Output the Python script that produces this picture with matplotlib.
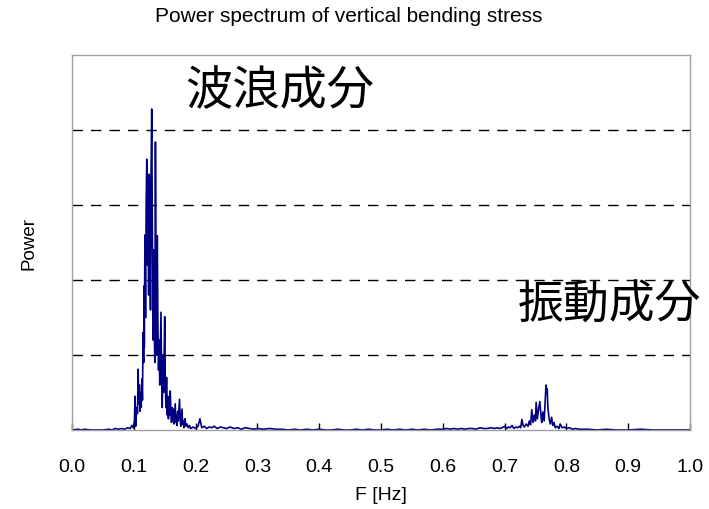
import numpy as np
import matplotlib.pyplot as plt

# power spectrum, read band by band (frequency in Hz, power in grid units)
low_freq = [0.000, 0.010, 0.015, 0.020, 0.030, 0.040, 0.050, 0.060, 0.065, 0.070, 0.075, 0.080, 0.085, 0.090, 0.094]
low_power = [0.00, 0.01, 0.00, 0.01, 0.00, 0.00, 0.00, 0.01, 0.00, 0.02, 0.01, 0.02, 0.01, 0.03, 0.02]

wave_freq = [0.097, 0.099, 0.101, 0.102, 0.103, 0.105, 0.106, 0.107, 0.108, 0.109, 0.110, 0.111, 0.112,
             0.113, 0.114, 0.115, 0.116, 0.1165, 0.117, 0.118, 0.119, 0.120, 0.121, 0.122, 0.123, 0.124,
             0.125, 0.126, 0.127, 0.128, 0.129, 0.130, 0.131, 0.132, 0.133, 0.134, 0.135, 0.136, 0.137,
             0.138, 0.139, 0.140, 0.141, 0.142, 0.143, 0.144, 0.145, 0.146, 0.147, 0.148, 0.149, 0.150,
             0.151, 0.152, 0.153, 0.154, 0.155, 0.156, 0.157, 0.158, 0.159, 0.160, 0.161, 0.162, 0.163,
             0.164, 0.165, 0.166, 0.167, 0.168, 0.169, 0.170, 0.171, 0.172, 0.174, 0.175, 0.176, 0.178,
             0.179, 0.180, 0.181, 0.183, 0.184, 0.186, 0.188, 0.190, 0.192]
wave_power = [0.06, 0.03, 0.12, 0.45, 0.05, 0.30, 0.22, 0.81, 0.35, 0.60, 0.25, 0.50, 0.30,
              0.68, 0.40, 1.30, 0.90, 1.92, 1.10, 2.60, 1.50, 3.00, 3.61, 2.20, 3.20, 1.80,
              3.41, 2.40, 1.60, 3.50, 4.28, 2.80, 1.20, 2.40, 1.40, 0.90, 3.84, 2.10, 1.00,
              2.59, 1.40, 0.80, 1.20, 0.60, 1.10, 1.57, 0.70, 0.30, 1.00, 0.50, 0.90, 1.51,
              0.60, 0.30, 0.70, 0.20, 0.45, 0.15, 0.35, 0.20, 0.52, 0.25, 0.10, 0.30, 0.12,
              0.28, 0.08, 0.22, 0.35, 0.10, 0.20, 0.06, 0.25, 0.12, 0.41, 0.15, 0.05, 0.28,
              0.08, 0.12, 0.03, 0.15, 0.05, 0.08, 0.03, 0.06, 0.02]

mid_freq = [0.196, 0.200, 0.204, 0.207, 0.210, 0.214, 0.218, 0.222, 0.226, 0.230, 0.235, 0.240, 0.245,
            0.250, 0.256, 0.262, 0.268, 0.274, 0.280, 0.287, 0.294, 0.300, 0.310, 0.320, 0.330, 0.340,
            0.350, 0.360, 0.370, 0.380, 0.390, 0.400, 0.410, 0.420, 0.430, 0.440, 0.450, 0.460, 0.470,
            0.480, 0.490, 0.500, 0.510, 0.520, 0.530, 0.540, 0.550, 0.560, 0.570, 0.580, 0.590, 0.600,
            0.606, 0.612, 0.618, 0.624, 0.630, 0.636, 0.642, 0.648, 0.654, 0.660, 0.666, 0.672, 0.678,
            0.684, 0.688]
mid_power = [0.04, 0.02, 0.05, 0.15, 0.03, 0.05, 0.02, 0.04, 0.03, 0.05, 0.02, 0.04, 0.03,
             0.02, 0.04, 0.02, 0.03, 0.01, 0.03, 0.02, 0.01, 0.02, 0.01, 0.02, 0.01, 0.01,
             0.00, 0.01, 0.00, 0.01, 0.00, 0.01, 0.00, 0.00, 0.01, 0.00, 0.00, 0.01, 0.00,
             0.01, 0.00, 0.00, 0.01, 0.00, 0.01, 0.00, 0.01, 0.00, 0.01, 0.00, 0.01, 0.01,
             0.02, 0.01, 0.02, 0.01, 0.02, 0.01, 0.02, 0.02, 0.01, 0.03, 0.02, 0.02, 0.03,
             0.02, 0.03]

vib_freq = [0.692, 0.696, 0.700, 0.703, 0.706, 0.709, 0.712, 0.715, 0.718, 0.721, 0.724, 0.726,
            0.728, 0.730, 0.732, 0.735, 0.738, 0.740, 0.742, 0.744, 0.746, 0.748, 0.750, 0.751,
            0.753, 0.755, 0.757, 0.759, 0.760, 0.762, 0.764, 0.766, 0.767, 0.768, 0.769, 0.770,
            0.772, 0.774, 0.776, 0.778, 0.780, 0.782, 0.785, 0.788, 0.790, 0.793, 0.796, 0.800,
            0.805, 0.810, 0.815, 0.820, 0.825]
vib_power = [0.02, 0.03, 0.05, 0.02, 0.04, 0.03, 0.06, 0.02, 0.04, 0.03, 0.05, 0.03,
             0.14, 0.06, 0.04, 0.08, 0.05, 0.12, 0.07, 0.27, 0.10, 0.20, 0.12, 0.37,
             0.15, 0.28, 0.38, 0.18, 0.10, 0.24, 0.12, 0.45, 0.60, 0.50, 0.55, 0.30,
             0.15, 0.08, 0.17, 0.06, 0.10, 0.03, 0.05, 0.02, 0.08, 0.03, 0.04, 0.02,
             0.03, 0.01, 0.02, 0.01, 0.01]

high_freq = [0.835, 0.850, 0.865, 0.880, 0.900, 0.920, 0.940, 0.960, 0.980, 1.000]
high_power = [0.01, 0.00, 0.01, 0.00, 0.00, 0.01, 0.00, 0.00, 0.00, 0.00]

x_ticks = [0.0, 0.1, 0.2, 0.3, 0.4, 0.5, 0.6, 0.7, 0.8, 0.9, 1.0]
grid_levels = [1, 2, 3, 4]

freq = np.concatenate([low_freq, wave_freq, mid_freq, vib_freq, high_freq])
power = np.concatenate([low_power, wave_power, mid_power, vib_power, high_power])

W, H = 709, 510
fig = plt.figure(figsize=(W / 100, H / 100), dpi=100)
ax = fig.add_axes([72 / W, 1 - 431 / H, 618 / W, 375 / H])

ax.plot(freq, power, color='#000080', lw=1.2)

ax.set_xlim(0, 1)
ax.set_ylim(0, 5)
ax.set_xticks(x_ticks)
ax.set_xticklabels(['%.1f' % t for t in x_ticks], family='Liberation Sans', fontsize=14)
ax.tick_params(axis='x', direction='in', length=5, width=1, color='black', pad=20)
ax.set_yticks(grid_levels)
ax.set_yticklabels([])
ax.tick_params(axis='y', length=0)
ax.yaxis.grid(True, color='black', lw=1.0, linestyle=(0, (7.5, 5.8)))
ax.set_axisbelow(True)

for side in ['top', 'right', 'left', 'bottom']:
    ax.spines[side].set_color('#a0a0a0')
    ax.spines[side].set_linewidth(1.0)

ax.set_xlabel('F [Hz]', family='Liberation Sans', fontsize=14, labelpad=8)
ax.set_ylabel('Power', family='Liberation Sans', fontsize=13.5, labelpad=21)
fig.text(349 / W, 1 - 17 / H, 'Power spectrum of vertical bending stress',
         family='Liberation Sans', fontsize=15, ha='center', va='center')

# band names
fig.text(185 / W, 1 - 92 / H, '波浪成分', family=['Noto Sans CJK JP', 'DejaVu Sans'],
         fontsize=34, ha='left', va='center')
fig.text(518 / W, 1 - 305 / H, '振動成分', family=['Noto Sans CJK JP', 'DejaVu Sans'],
         fontsize=33, ha='left', va='center')

fig.savefig('out.png', dpi=100)
